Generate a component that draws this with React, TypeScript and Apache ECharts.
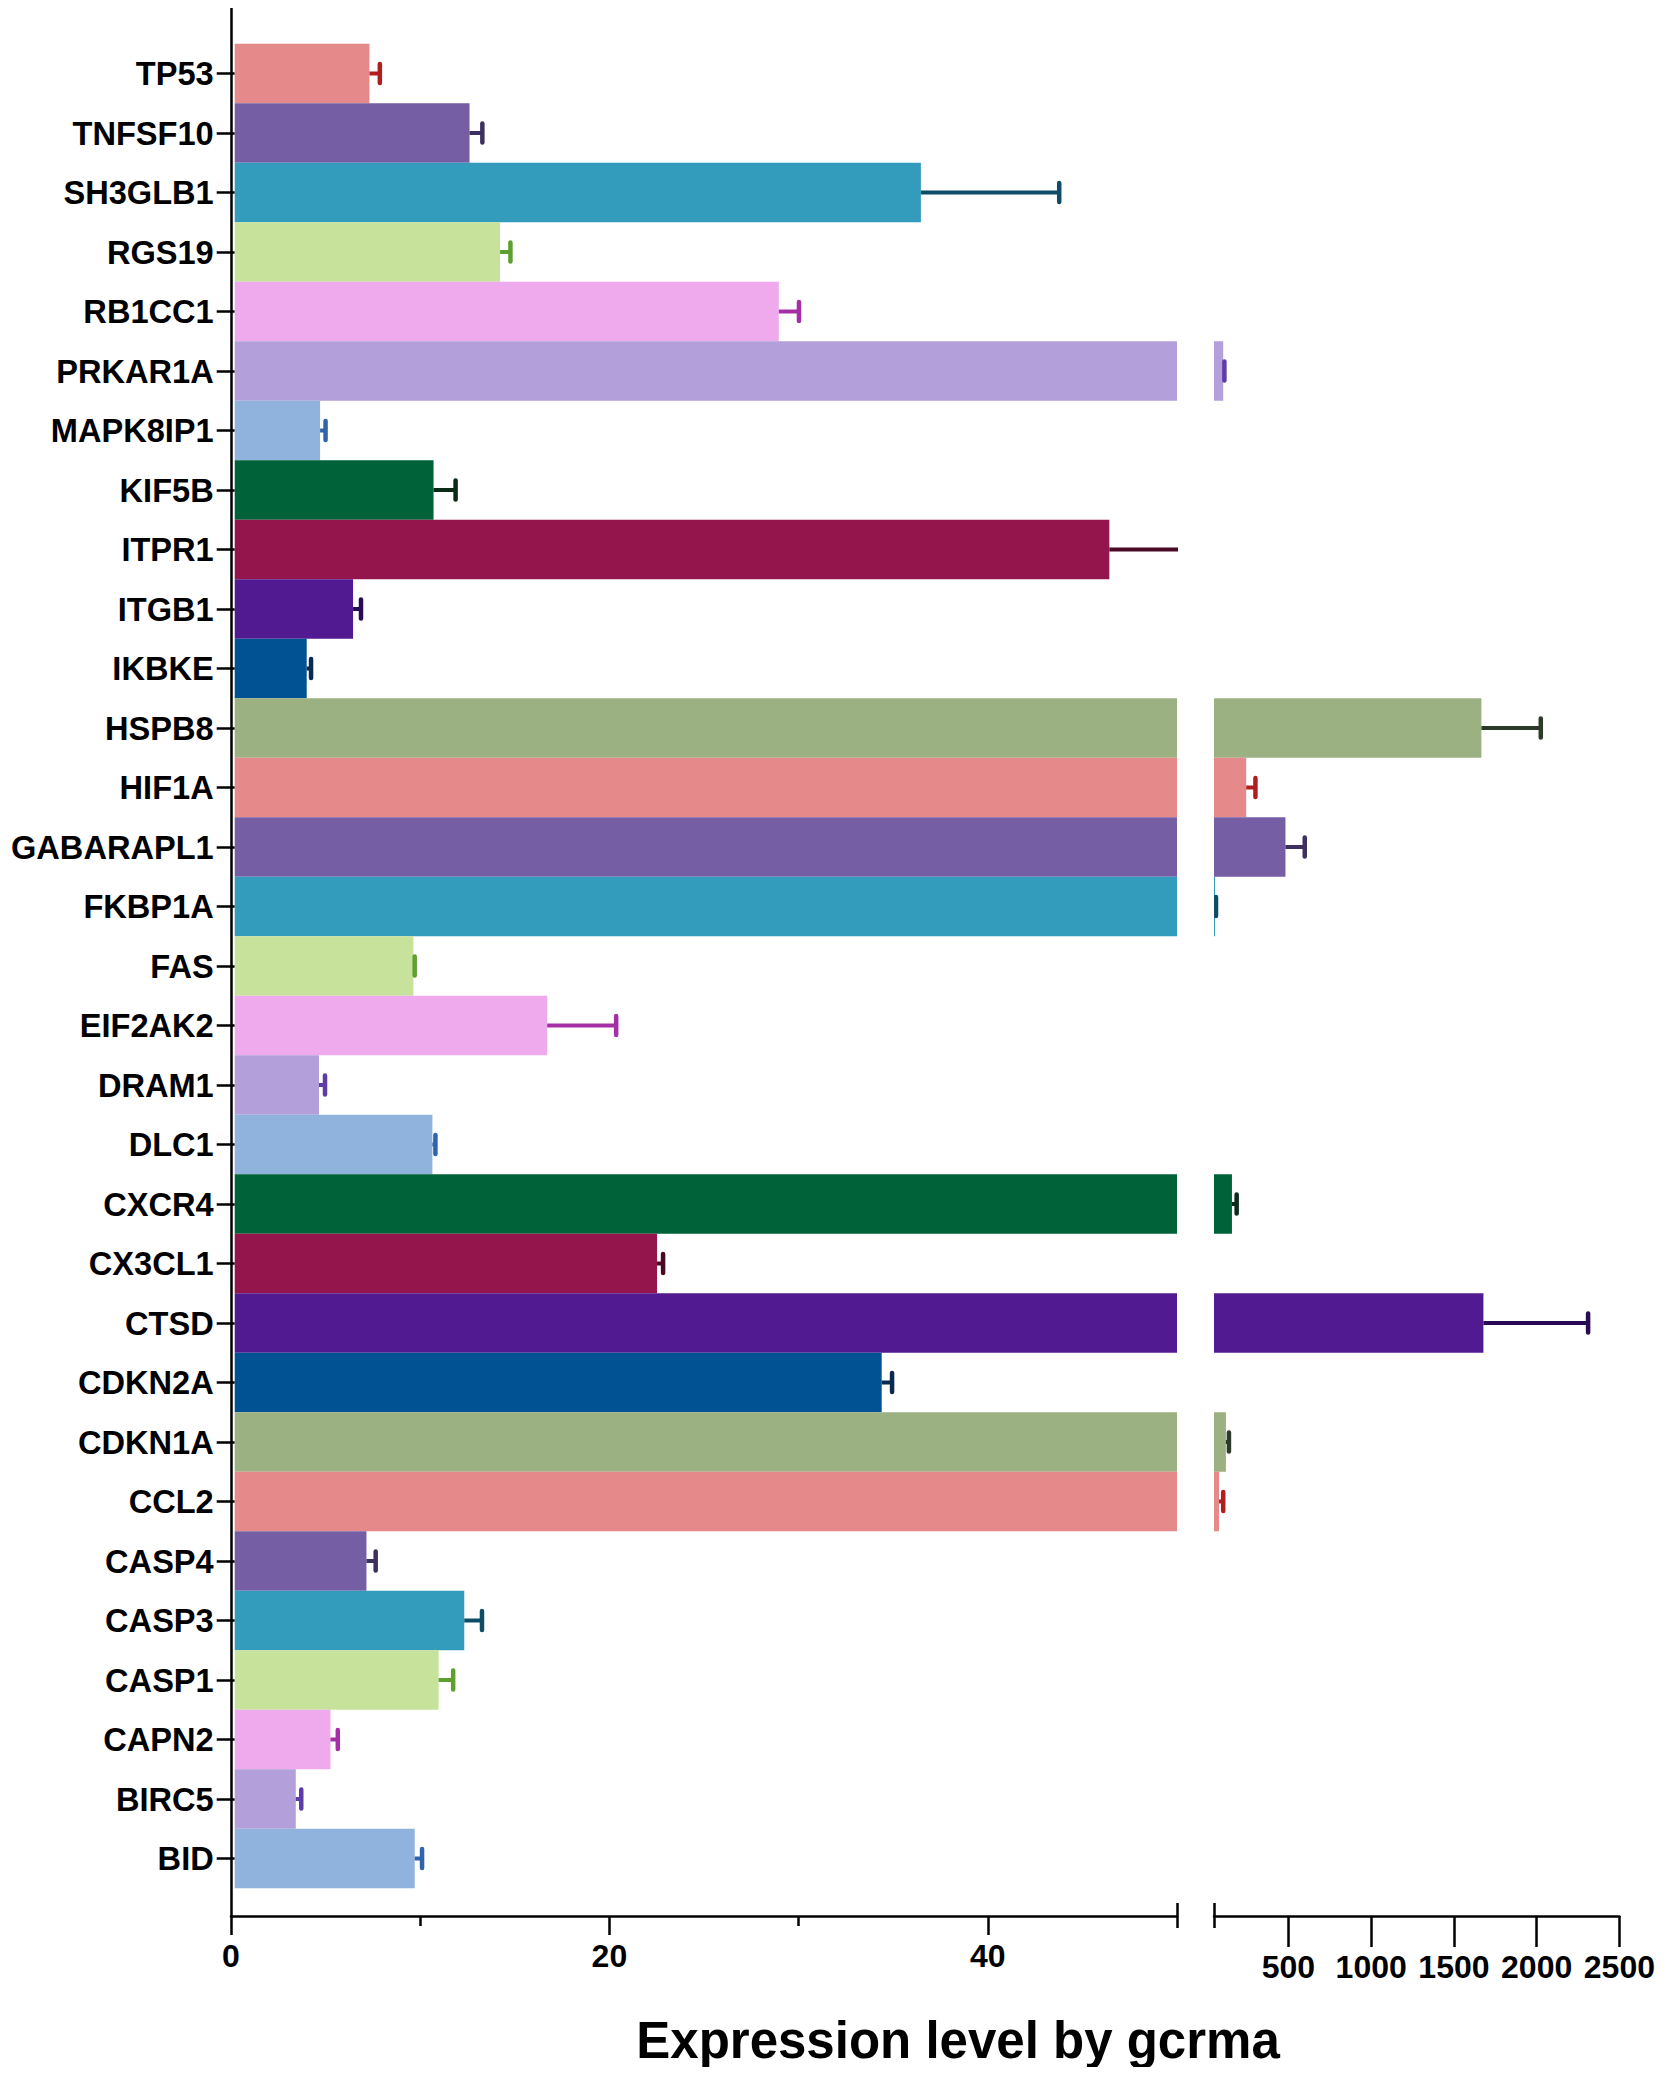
import React, { useEffect, useRef } from "react";
import * as echarts from "echarts";

// ---- data ----
const genes = [
  "TP53", "TNFSF10", "SH3GLB1", "RGS19", "RB1CC1", "PRKAR1A", "MAPK8IP1", "KIF5B",
  "ITPR1", "ITGB1", "IKBKE", "HSPB8", "HIF1A", "GABARAPL1", "FKBP1A", "FAS",
  "EIF2AK2", "DRAM1", "DLC1", "CXCR4", "CX3CL1", "CTSD", "CDKN2A", "CDKN1A",
  "CCL2", "CASP4", "CASP3", "CASP1", "CAPN2", "BIRC5", "BID",
];
const means = [
  7.15, 12.46, 36.41, 14.08, 28.87, 105, 4.53, 10.55,
  46.41, 6.28, 3.82, 1644, 242, 476, 56, 9.48,
  16.58, 4.47, 10.49, 157, 22.41, 1656, 34.33, 121,
  80, 6.99, 12.18, 10.82, 5.08, 3.24, 9.55,
];
const upper = [
  7.7, 13.14, 43.75, 14.63, 29.94, 112, 4.82, 11.72,
  51.5, 6.7, 4.05, 1998, 297, 591, 62, 9.55,
  20.24, 4.79, 10.65, 185, 22.73, 2280, 34.88, 139,
  105, 7.48, 13.12, 11.59, 5.47, 3.53, 9.94,
];
const leftTicks = [0, 20, 40];
const leftMinorTicks = [10, 30];
const rightTicks = [500, 1000, 1500, 2000, 2500];
const breakValue = 50;
const rightMax = 2500;
const leftMin = 0;

// ---- style ----
const barColors = [
  "#E5898B", "#765EA5", "#339BBB", "#C7E29A", "#EFAAEE", "#B39FD9",
  "#90B3DD", "#006239", "#93154C", "#521A91", "#005293", "#9BB181",
];
const errColors = [
  "#B01E1E", "#3E2F61", "#0F4D66", "#5DA030", "#A530A5", "#5D3CA8",
  "#2E64AB", "#0C2A18", "#4A0A25", "#2A0A55", "#0A2A50", "#2C3A2A",
];
const FONT = "'Liberation Sans', Arial, Helvetica, sans-serif";
const AXIS_W = 2.5;

const W = 1650;
const H = 2059;
const L_LEFT = 223;
const L_WIDTH = 946;
const R_LEFT = 1206;
const R_WIDTH = 411;
const BAR_TOP = 35.75;
const BAR_H = 1844.5;
const FRAME_TOP = 0;
const FRAME_H = 1908;

function errorRenderer(params: any, api: any) {
  const lo = api.value(0);
  const idx = api.value(1);
  const hi = api.value(2);
  const p0 = api.coord([lo, idx]);
  const p1 = api.coord([hi, idx]);
  const color = errColors[idx % errColors.length];
  const half = 9.5;
  return {
    type: "group",
    children: [
      {
        type: "line",
        shape: { x1: p0[0], y1: p0[1], x2: p1[0], y2: p1[1] },
        style: { stroke: color, lineWidth: 4, lineCap: "butt" },
      },
      {
        type: "line",
        shape: { x1: p1[0], y1: p1[1] - half, x2: p1[0], y2: p1[1] + half },
        style: { stroke: color, lineWidth: 4.5, lineCap: "round" },
      },
    ],
  };
}

function tickAxis(gridIndex: number, min: number, max: number, values: number[], length: number, inside: boolean) {
  return {
    gridIndex,
    type: "value",
    min,
    max,
    position: "bottom",
    axisLine: { show: false },
    axisTick: {
      show: true,
      customValues: values,
      length,
      inside,
      lineStyle: { color: "#000", width: AXIS_W },
    },
    axisLabel: { show: false },
    splitLine: { show: false },
  };
}

export default function App() {
  const ref = useRef<HTMLDivElement>(null);

  useEffect(() => {
    if (!ref.current) return;
    const chart = echarts.init(ref.current, undefined, { renderer: "svg" });

    const barData = means.map((v, i) => ({
      value: v,
      itemStyle: { color: barColors[i % barColors.length] },
    }));
    const rightBarData = means.map((v, i) =>
      v > breakValue
        ? { value: v, itemStyle: { color: barColors[i % barColors.length] } }
        : "-"
    );
    const leftErr: number[][] = [];
    const rightErr: number[][] = [];
    means.forEach((v, i) => {
      if (v < breakValue) leftErr.push([v, i, upper[i]]);
      else rightErr.push([v, i, upper[i]]);
    });

    const labelStyle = {
      fontFamily: FONT,
      fontWeight: "bold" as const,
      fontSize: 32,
      color: "#000",
    };
    const plain = (v: number) => String(v);

    chart.setOption({
      animation: false,
      backgroundColor: "#fff",
      textStyle: { fontFamily: FONT },
      grid: [
        { left: L_LEFT, top: BAR_TOP, width: L_WIDTH, height: BAR_H },
        { left: R_LEFT, top: BAR_TOP, width: R_WIDTH, height: BAR_H },
        { left: L_LEFT, top: FRAME_TOP, width: L_WIDTH, height: FRAME_H },
        { left: R_LEFT, top: FRAME_TOP, width: R_WIDTH, height: FRAME_H },
      ],
      xAxis: [
        { gridIndex: 0, type: "value", min: leftMin, max: breakValue, show: false },
        { gridIndex: 1, type: "value", min: breakValue, max: rightMax, show: false },
        {
          gridIndex: 2,
          type: "value",
          min: leftMin,
          max: breakValue,
          position: "bottom",
          axisLine: { show: true, lineStyle: { color: "#000", width: AXIS_W } },
          axisTick: {
            show: true,
            customValues: leftTicks,
            length: 19,
            lineStyle: { color: "#000", width: AXIS_W },
          },
          axisLabel: { show: true, customValues: leftTicks, margin: 24, formatter: plain, ...labelStyle },
          splitLine: { show: false },
        },
        tickAxis(2, leftMin, breakValue, leftMinorTicks, 10, false),
        tickAxis(2, leftMin, breakValue, [breakValue], 12, false),
        tickAxis(2, leftMin, breakValue, [breakValue], 13, true),
        {
          gridIndex: 3,
          type: "value",
          min: breakValue,
          max: rightMax,
          position: "bottom",
          axisLine: { show: true, lineStyle: { color: "#000", width: AXIS_W } },
          axisTick: {
            show: true,
            customValues: rightTicks,
            length: 31,
            lineStyle: { color: "#000", width: AXIS_W },
          },
          axisLabel: { show: true, customValues: rightTicks, margin: 35, formatter: plain, ...labelStyle },
          splitLine: { show: false },
        },
        tickAxis(3, breakValue, rightMax, [breakValue], 12, false),
        tickAxis(3, breakValue, rightMax, [breakValue], 13, true),
      ],
      yAxis: [
        {
          gridIndex: 0,
          type: "category",
          data: genes,
          inverse: true,
          axisLine: { show: false },
          axisTick: {
            show: true,
            alignWithLabel: true,
            length: 18,
            lineStyle: { color: "#000", width: AXIS_W },
          },
          axisLabel: { show: true, margin: 21, interval: 0, ...labelStyle, fontSize: 32.6 },
          splitLine: { show: false },
        },
        {
          gridIndex: 1,
          type: "category",
          data: genes,
          inverse: true,
          show: false,
        },
        {
          gridIndex: 2,
          type: "value",
          min: 0,
          max: 1,
          axisLine: { show: true, lineStyle: { color: "#000", width: AXIS_W } },
          axisTick: { show: false },
          axisLabel: { show: false },
          splitLine: { show: false },
        },
        { gridIndex: 3, type: "value", min: 0, max: 1, show: false, splitLine: { show: false } },
      ],
      series: [
        {
          type: "bar",
          xAxisIndex: 0,
          yAxisIndex: 0,
          data: barData,
          barCategoryGap: "0%",
          clip: true,
          z: 2,
        },
        {
          type: "bar",
          xAxisIndex: 1,
          yAxisIndex: 1,
          data: rightBarData,
          barCategoryGap: "0%",
          clip: true,
          z: 2,
        },
        {
          type: "custom",
          xAxisIndex: 0,
          yAxisIndex: 0,
          data: leftErr,
          encode: { x: [0, 2], y: 1 },
          renderItem: errorRenderer,
          clip: true,
          z: 3,
        },
        {
          type: "custom",
          xAxisIndex: 1,
          yAxisIndex: 1,
          data: rightErr,
          encode: { x: [0, 2], y: 1 },
          renderItem: errorRenderer,
          clip: true,
          z: 3,
        },
      ],
      graphic: [
        {
          type: "text",
          x: 950,
          y: 2032,
          style: {
            text: "Expression level by gcrma",
            font: `bold 51px ${FONT}`,
            fill: "#000",
            align: "center",
            verticalAlign: "middle",
            textAlign: "center",
            textVerticalAlign: "middle",
          },
        },
      ],
    });

    return () => chart.dispose();
  }, []);

  return <div ref={ref} style={{ width: W, height: H }} />;
}
